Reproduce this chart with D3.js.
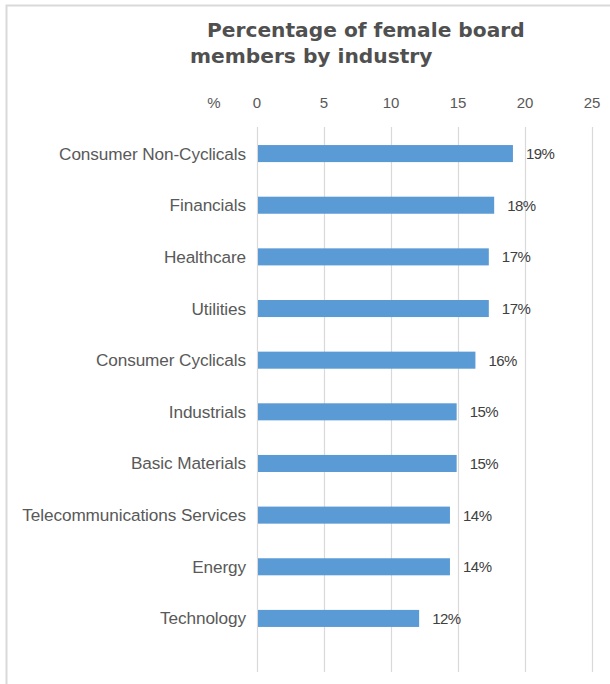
<!DOCTYPE html>
<html>
<head>
<meta charset="utf-8">
<script src="https://cdn.jsdelivr.net/npm/d3@7"></script>
<style>
  body { margin: 0; background: #fff; }
  svg { display: block; }
</style>
</head>
<body>
<div id="chart"></div>
<script>
// data
const industries = [
  'Consumer Non-Cyclicals', 'Financials', 'Healthcare', 'Utilities',
  'Consumer Cyclicals', 'Industrials', 'Basic Materials',
  'Telecommunications Services', 'Energy', 'Technology'
];
const shares = [19.1, 17.7, 17.3, 17.3, 16.3, 14.9, 14.9, 14.4, 14.4, 12.1];
const xTicks = [0, 5, 10, 15, 20, 25];
const titleLines = ['Percentage of female board', 'members by industry'];

const width = 610, height = 684;
const grey = '#595959';

const svg = d3.select('#chart').append('svg')
  .attr('width', width)
  .attr('height', height);

// outer frame (top and left edges visible)
svg.append('path')
  .attr('d', `M6.5,${height} V5.5 H${width}`)
  .attr('fill', 'none')
  .attr('stroke', '#d9d9d9')
  .attr('stroke-width', 2);

// title
const title = svg.append('g')
  .attr('font-family', 'DejaVu Sans')
  .attr('font-weight', 'bold')
  .attr('font-size', 20.2)
  .attr('fill', '#505050');
title.append('text').attr('x', 207).attr('y', 37).text(titleLines[0]);
title.append('text').attr('x', 190).attr('y', 63).text(titleLines[1]);

const x = d3.scaleLinear().domain([0, 25]).range([257, 592]);
const y = d3.scaleBand().domain(industries).range([128, 644]).paddingInner(0.67).paddingOuter(0.33);

const gridTop = 127, gridBottom = 672;

// gridlines
svg.append('g')
  .selectAll('line')
  .data(xTicks)
  .join('line')
  .attr('x1', d => x(d) + 0.5)
  .attr('x2', d => x(d) + 0.5)
  .attr('y1', gridTop)
  .attr('y2', gridBottom)
  .attr('stroke', '#d9d9d9')
  .attr('stroke-width', 1.2);

// top axis labels
const axis = svg.append('g')
  .attr('font-family', 'Liberation Sans')
  .attr('font-size', 15)
  .attr('fill', grey);
axis.selectAll('text.tick')
  .data(xTicks)
  .join('text')
  .attr('class', 'tick')
  .attr('x', d => x(d))
  .attr('y', 108)
  .attr('text-anchor', 'middle')
  .text(d => d);
axis.append('text')
  .attr('x', 214).attr('y', 108)
  .attr('text-anchor', 'middle')
  .text('%');

// bars
svg.append('g')
  .selectAll('rect')
  .data(industries)
  .join('rect')
  .attr('x', x(0) + 1)
  .attr('y', d => y(d))
  .attr('width', (d, i) => x(shares[i]) - x(0) - 1)
  .attr('height', y.bandwidth())
  .attr('fill', '#5b9bd5');

// category labels
svg.append('g')
  .attr('font-family', 'Liberation Sans')
  .attr('font-size', 17.2)
  .attr('fill', grey)
  .attr('letter-spacing', -0.1)
  .selectAll('text')
  .data(industries)
  .join('text')
  .attr('x', 246)
  .attr('y', d => y(d) + y.bandwidth() / 2 + 6)
  .attr('text-anchor', 'end')
  .text(d => d);

// value labels
const fmt = d3.format('.0f');
svg.append('g')
  .attr('font-family', 'Liberation Sans')
  .attr('font-size', 15)
  .attr('fill', '#404040')
  .attr('letter-spacing', -0.5)
  .selectAll('text')
  .data(shares)
  .join('text')
  .attr('x', d => x(d) + 13)
  .attr('y', (d, i) => y(industries[i]) + y.bandwidth() / 2 + 5.5)
  .text(d => fmt(d) + '%');
</script>
</body>
</html>
